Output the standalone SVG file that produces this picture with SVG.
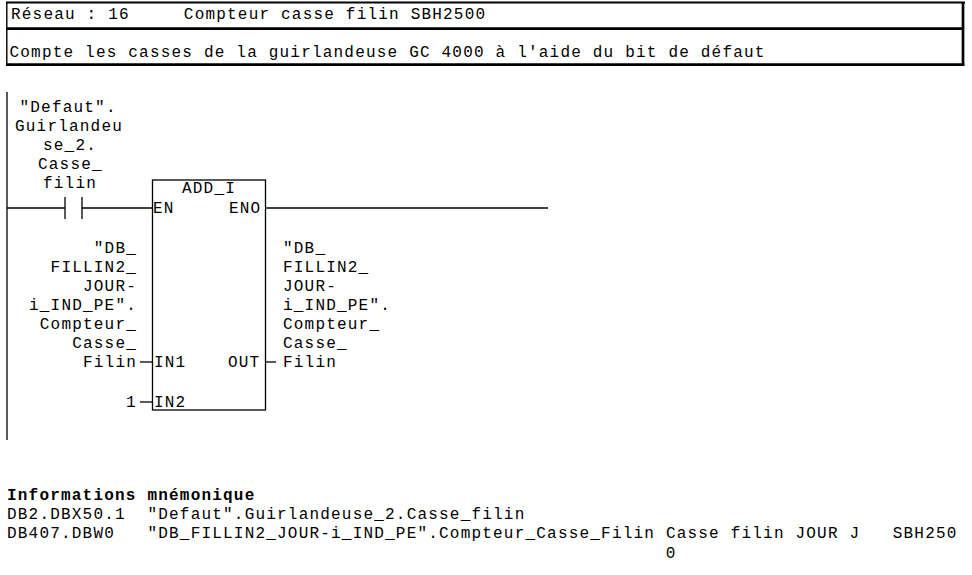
<svg xmlns="http://www.w3.org/2000/svg" width="972" height="575" viewBox="0 0 972 575">
<style>
text{font-family:"Liberation Mono","Courier New",monospace;font-size:16px;letter-spacing:1.2px;fill:#000}
.b{font-weight:bold}
.ln{stroke:#000;stroke-width:1.3;fill:none}
.hd{stroke:#000;fill:none}
</style>
<rect width="972" height="575" fill="#fff"/>
<g id="header">
<line class="hd" x1="6" y1="2.5" x2="965" y2="2.5" stroke-width="2"/>
<line class="hd" x1="6.8" y1="2" x2="6.8" y2="66" stroke-width="1.4"/>
<line class="hd" x1="963" y1="2" x2="963" y2="66" stroke-width="2.7"/>
<line class="hd" x1="6" y1="28.7" x2="964" y2="28.7" stroke-width="2.7"/>
<line class="hd" x1="6" y1="64.7" x2="964.3" y2="64.7" stroke-width="2.7"/>
<text x="11" y="19" xml:space="preserve">Réseau : 16     Compteur casse filin SBH2500</text>
<text x="9.5" y="57">Compte les casses de la guirlandeuse GC 4000 à l'aide du bit de défaut</text>
</g>
<g id="connectors">
<line class="ln" x1="7" y1="92" x2="7" y2="440"/>
<line class="ln" x1="7" y1="208" x2="65" y2="208"/>
<line class="ln" x1="82" y1="208" x2="152.5" y2="208"/>
<line class="ln" x1="265.5" y1="208" x2="548" y2="208"/>
<line class="ln" x1="140" y1="362" x2="152.5" y2="362"/>
<line class="ln" x1="265.5" y1="362" x2="276" y2="362"/>
<line class="ln" x1="140" y1="402" x2="152.5" y2="402"/>
</g>
<g id="contact">
<line class="ln" x1="65" y1="197" x2="65" y2="219"/>
<line class="ln" x1="82" y1="197" x2="82" y2="219"/>
<text x="19.5" y="112">"Defaut".</text>
<text x="15" y="131">Guirlandeu</text>
<text x="43" y="150">se_2.</text>
<text x="38" y="169">Casse_</text>
<text x="43" y="188">filin</text>
</g>
<g id="add_i">
<rect class="ln" x="152.5" y="180" width="113" height="230"/>
<text x="182" y="193">ADD_I</text>
<text x="153" y="213">EN</text>
<text x="229" y="213">ENO</text>
<text x="154" y="367">IN1</text>
<text x="228" y="367">OUT</text>
<text x="154" y="407">IN2</text>
</g>
<g id="in1">
<text x="93.8" y="253">"DB_</text>
<text x="50.6" y="272">FILLIN2_</text>
<text x="83" y="291">JOUR-</text>
<text x="29" y="310">i_IND_PE".</text>
<text x="39.8" y="329">Compteur_</text>
<text x="72.2" y="348">Casse_</text>
<text x="83" y="367">Filin</text>
</g>
<g id="in2">
<text x="126" y="407">1</text>
</g>
<g id="out">
<text x="283" y="253">"DB_</text>
<text x="283" y="272">FILLIN2_</text>
<text x="283" y="291">JOUR-</text>
<text x="283" y="310">i_IND_PE".</text>
<text x="283" y="329">Compteur_</text>
<text x="283" y="348">Casse_</text>
<text x="283" y="367">Filin</text>
</g>
<g id="info">
<text class="b" x="7" y="500">Informations mnémonique</text>
<text x="7" y="519" xml:space="preserve">DB2.DBX50.1  "Defaut".Guirlandeuse_2.Casse_filin</text>
<text x="7" y="538" xml:space="preserve">DB407.DBW0   "DB_FILLIN2_JOUR-i_IND_PE".Compteur_Casse_Filin Casse filin JOUR J   SBH250</text>
<text x="665.8" y="558">0</text>
</g>
</svg>
